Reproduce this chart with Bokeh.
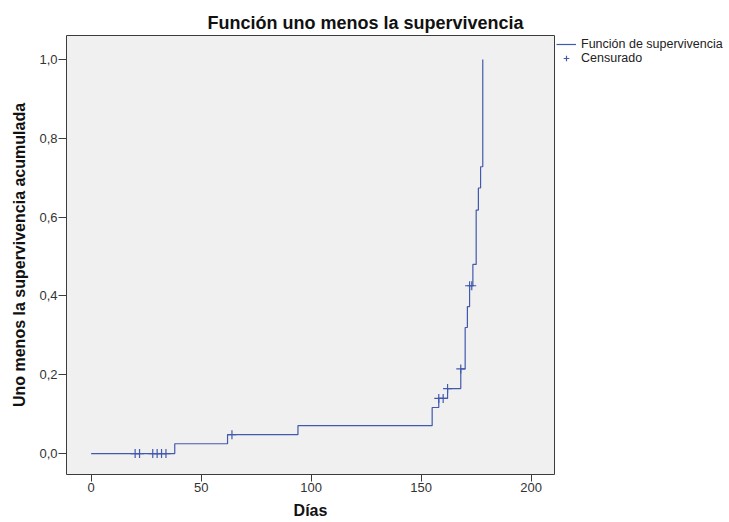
from bokeh.plotting import figure
from bokeh.models import (FixedTicker, CustomJSTickFormatter, Legend, LegendItem,
                          ColumnDataSource, Range1d, Title)
from bokeh.embed import file_html
from bokeh.resources import INLINE

# ---- data ----
step_days = [0, 38, 62, 94, 155, 158, 162, 168, 170, 171, 172, 173.5, 175, 176, 177, 178]
step_cum = [0.0, 0.025, 0.048, 0.071, 0.117, 0.140, 0.165, 0.215, 0.320, 0.373,
            0.426, 0.480, 0.618, 0.674, 0.728, 1.0]

cens_days = [20, 22, 28, 30, 32, 34, 64, 158, 160, 162, 168, 172, 173]
cens_cum = [0.0, 0.0, 0.0, 0.0, 0.0, 0.0, 0.048, 0.140, 0.140, 0.165, 0.215, 0.426, 0.426]

x_ticks = [0, 50, 100, 150, 200]
y_ticks = [0.0, 0.2, 0.4, 0.6, 0.8, 1.0]

title_text = "Función uno menos la supervivencia"
x_label = "Días"
y_label = "Uno menos la supervivencia acumulada"
legend_labels = ["Función de supervivencia", "Censurado"]

LINE = "#4259ad"
FONT = "Liberation Sans"

p = figure(frame_width=488, frame_height=439, output_backend="svg", toolbar_location=None,
           x_range=Range1d(-11.2, 210.6), y_range=Range1d(-0.053, 1.061),
           min_border_left=66, min_border_top=35, min_border_bottom=46,
           min_border_right=0, title=None)

p.background_fill_color = "#f0f0f0"
p.border_fill_color = "white"
p.outline_line_color = "#3c3c3c"
p.outline_line_width = 1
p.grid.visible = False

src_step = ColumnDataSource(dict(x=step_days, y=step_cum))
src_cens = ColumnDataSource(dict(x=cens_days, y=cens_cum))

r_step = p.step("x", "y", source=src_step, mode="after", line_color=LINE, line_width=1.2)
r_cens = p.scatter("x", "y", source=src_cens, marker="cross", size=9,
                   line_color=LINE, line_width=1.2)
# empty line only used to give the "Censurado" legend icon its horizontal stroke
r_cens_icon = p.line(x=[], y=[], line_color=LINE, line_width=1.2)

# axes
for ax in (p.xaxis[0], p.yaxis[0]):
    ax.axis_line_color = None
    ax.major_tick_line_color = "#3c3c3c"
    ax.major_tick_in = 0
    ax.minor_tick_line_color = None
    ax.major_label_text_font = FONT
    ax.major_label_text_font_size = "13px"
    ax.major_label_text_color = "#333333"
    ax.axis_label_text_font = FONT
    ax.axis_label_text_font_style = "bold"
    ax.axis_label_text_font_size = "16px"
    ax.axis_label_text_color = "#111111"

p.xaxis.ticker = FixedTicker(ticks=x_ticks)
p.yaxis.ticker = FixedTicker(ticks=y_ticks)
p.yaxis.formatter = CustomJSTickFormatter(code="return tick.toFixed(1).replace('.', ',')")
p.xaxis.major_tick_out = 7
p.yaxis.major_tick_out = 8
p.xaxis.major_label_standoff = 1
p.yaxis.major_label_standoff = 1
p.xaxis.axis_label = x_label
p.yaxis.axis_label = y_label
p.xaxis.axis_label_standoff = 7
p.yaxis.axis_label_standoff = 8

# title
t = Title(text=title_text, align="left", offset=141, text_font=FONT,
          text_font_size="18px", text_font_style="bold", text_color="#111111",
          standoff=5)
p.add_layout(t, "above")

# legend
legend = Legend(items=[LegendItem(label=legend_labels[0], renderers=[r_step]),
                       LegendItem(label=legend_labels[1], renderers=[r_cens, r_cens_icon])],
                location="top_left", margin=2, padding=0, spacing=0,
                glyph_width=20, glyph_height=14, label_height=14,
                label_standoff=5, label_text_font=FONT, label_text_font_size="12.5px",
                label_text_color="#222222", border_line_color=None,
                background_fill_alpha=0)
p.add_layout(legend, "right")

open("out.html", "w").write(file_html(p, INLINE))
